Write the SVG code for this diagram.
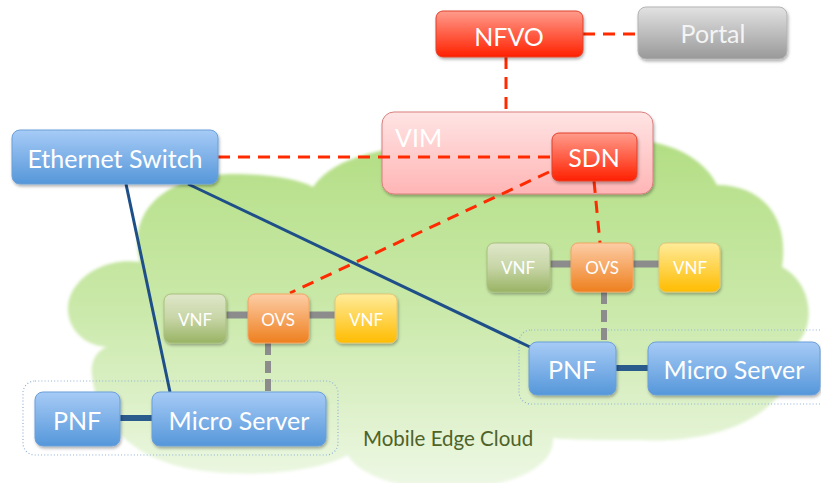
<svg xmlns="http://www.w3.org/2000/svg" width="821" height="483" viewBox="0 0 821 483">
<defs>
  <linearGradient id="gCloud" x1="0" y1="0" x2="0" y2="1">
    <stop offset="0" stop-color="#b3de84"/>
    <stop offset="0.5" stop-color="#cbe9ab"/>
    <stop offset="1" stop-color="#eef8e6"/>
  </linearGradient>
  <linearGradient id="gBlue" x1="0" y1="0" x2="0" y2="1">
    <stop offset="0" stop-color="#a7cbf6"/>
    <stop offset="1" stop-color="#5597da"/>
  </linearGradient>
  <linearGradient id="gRed" x1="0" y1="0" x2="0" y2="1">
    <stop offset="0" stop-color="#ff9c8c"/>
    <stop offset="1" stop-color="#ff2000"/>
  </linearGradient>
  <linearGradient id="gGray" x1="0" y1="0" x2="0" y2="1">
    <stop offset="0" stop-color="#e2e2e2"/>
    <stop offset="1" stop-color="#999999"/>
  </linearGradient>
  <linearGradient id="gPink" x1="0" y1="0" x2="0" y2="1">
    <stop offset="0" stop-color="#ffe4e4"/>
    <stop offset="1" stop-color="#ffb5b5"/>
  </linearGradient>
  <linearGradient id="gOrange" x1="0" y1="0" x2="0" y2="1">
    <stop offset="0" stop-color="#fdcda6"/>
    <stop offset="1" stop-color="#ee7f1e"/>
  </linearGradient>
  <linearGradient id="gGreen" x1="0" y1="0" x2="0" y2="1">
    <stop offset="0" stop-color="#dfe7c9"/>
    <stop offset="0.5" stop-color="#c7d5a6"/>
    <stop offset="1" stop-color="#98b363"/>
  </linearGradient>
  <linearGradient id="gYellow" x1="0" y1="0" x2="0" y2="1">
    <stop offset="0" stop-color="#ffeb9a"/>
    <stop offset="1" stop-color="#ffbc00"/>
  </linearGradient>
  <filter id="shadow" x="-10%" y="-10%" width="130%" height="140%">
    <feDropShadow dx="1" dy="2" stdDeviation="1.5" flood-color="#000" flood-opacity="0.3"/>
  </filter>
  <filter id="soft" x="-5%" y="-5%" width="110%" height="110%">
    <feGaussianBlur stdDeviation="1.5"/>
  </filter>
</defs>
<style>
  text { font-family: Lato, "Open Sans", "Liberation Sans", sans-serif; fill: #ffffff; text-anchor: middle; }
  .big { font-size: 25px; }
  .small { font-size: 17px; }
  .box { filter: url(#shadow); }
  .blue { fill: url(#gBlue); stroke: #6b9fd8; stroke-width: 1; }
  .red { fill: url(#gRed); stroke: #e0402c; stroke-width: 1; }
  .gray { fill: url(#gGray); stroke: #b4b4b4; stroke-width: 1; }
  .orange { fill: url(#gOrange); stroke: #f4a461; stroke-width: 1; }
  .green { fill: url(#gGreen); stroke: #a9c07c; stroke-width: 1; }
  .yellow { fill: url(#gYellow); stroke: #e3c772; stroke-width: 1; }
  .reddash { stroke: #ff2a00; stroke-width: 3; stroke-dasharray: 12 8; fill: none; }
  .graydash { stroke: #8c8c8c; stroke-width: 6; stroke-dasharray: 12 6; fill: none; }
  .graysolid { stroke: #8c8c8c; stroke-width: 7; fill: none; }
  .bluesolid { stroke: #2b5a8c; stroke-width: 6; fill: none; }
  .blueline { stroke: #1f4f88; stroke-width: 3; fill: none; }
  .dotted { fill: none; stroke: #8fb2d9; stroke-width: 1.2; stroke-dasharray: 1 2.2; }
</style>

<g id="cloud">
  <path filter="url(#soft)" fill="url(#gCloud)" d="M140,262 C125,205 175,172 240,174 C275,175 300,180 313,187 C335,155 390,145 450,145 L620,140 C670,138 705,160 717,185 C760,185 790,215 782,267 C815,285 815,330 795,345 C800,400 740,445 640,440 C600,440 570,440 553,438 C555,480 470,495 420,488 C385,484 355,470 348,455 C300,480 200,478 160,460 C120,445 95,410 92,375 C90,360 98,350 107,347 C75,345 60,315 72,292 C85,268 115,258 140,262 Z"/>
  <text x="363" y="446" style="font-size:20.5px; fill:#4f6228; text-anchor:start;">Mobile Edge Cloud</text>
</g>

<g id="vim">
  <rect class="box" x="382" y="112" width="271" height="82" rx="12" fill="url(#gPink)" stroke="#d97f7f" stroke-width="1"/>
  <text x="395" y="147" class="big" style="text-anchor:start;">VIM</text>
</g>

<g id="groups">
  <rect class="dotted" x="23" y="381" width="315" height="74" rx="12"/>
  <rect class="dotted" x="519" y="330" width="320" height="74" rx="12"/>
</g>

<g id="connectors">
  <line class="reddash" x1="583" y1="34" x2="638" y2="34"/>
  <line class="reddash" x1="506" y1="57" x2="506" y2="112"/>
  <line class="reddash" x1="218" y1="157" x2="552" y2="157"/>
  <line class="reddash" x1="549" y1="172" x2="290" y2="293"/>
  <line class="reddash" x1="594" y1="181" x2="600" y2="243"/>
  <line class="blueline" x1="126" y1="184" x2="170" y2="392"/>
  <line class="blueline" x1="188" y1="184" x2="530" y2="347"/>
  <line class="graysolid" x1="226" y1="315" x2="248" y2="315"/>
  <line class="graysolid" x1="309" y1="315" x2="335" y2="315"/>
  <line class="graydash" x1="268" y1="343" x2="268" y2="392"/>
  <line class="graysolid" x1="550" y1="264" x2="571" y2="264"/>
  <line class="graysolid" x1="633" y1="264" x2="659" y2="264"/>
  <line class="graydash" x1="604" y1="292" x2="604" y2="342"/>
  <line class="bluesolid" x1="120" y1="418" x2="152" y2="418"/>
  <line class="bluesolid" x1="616" y1="368" x2="648" y2="368"/>
</g>

<g id="nfvo">
  <rect class="box red" x="436" y="11" width="147" height="46" rx="7"/>
  <text x="509" y="46" class="big">NFVO</text>
</g>
<g id="portal">
  <rect class="box gray" x="638" y="7" width="149" height="52" rx="8"/>
  <text x="713" y="43" class="big" style="fill:#f4f4f4;">Portal</text>
</g>
<g id="sdn">
  <rect class="box red" x="552" y="133" width="85" height="48" rx="7"/>
  <text x="594" y="167" class="big">SDN</text>
</g>
<g id="ethernet-switch">
  <rect class="box blue" x="12" y="130" width="206" height="54" rx="8"/>
  <text x="115" y="168" class="big">Ethernet Switch</text>
</g>

<g id="vnf-left-1">
  <rect class="box green" x="164" y="294" width="62" height="49" rx="7"/>
  <text x="195" y="326" class="small">VNF</text>
</g>
<g id="ovs-left">
  <rect class="box orange" x="248" y="294" width="61" height="49" rx="7"/>
  <text x="278" y="326" class="small">OVS</text>
</g>
<g id="vnf-left-2">
  <rect class="box yellow" x="335" y="294" width="62" height="49" rx="7"/>
  <text x="366" y="326" class="small">VNF</text>
</g>

<g id="vnf-right-1">
  <rect class="box green" x="487" y="243" width="63" height="49" rx="7"/>
  <text x="518" y="274" class="small">VNF</text>
</g>
<g id="ovs-right">
  <rect class="box orange" x="571" y="243" width="62" height="49" rx="7"/>
  <text x="602" y="274" class="small">OVS</text>
</g>
<g id="vnf-right-2">
  <rect class="box yellow" x="659" y="243" width="61" height="49" rx="7"/>
  <text x="690" y="274" class="small">VNF</text>
</g>

<g id="pnf-left">
  <rect class="box blue" x="35" y="392" width="85" height="54" rx="8"/>
  <text x="77" y="430" class="big">PNF</text>
</g>
<g id="micro-server-left">
  <rect class="box blue" x="152" y="392" width="174" height="54" rx="8"/>
  <text x="239" y="430" class="big">Micro Server</text>
</g>
<g id="pnf-right">
  <rect class="box blue" x="529" y="342" width="87" height="53" rx="8"/>
  <text x="572" y="379" class="big">PNF</text>
</g>
<g id="micro-server-right">
  <rect class="box blue" x="648" y="342" width="172" height="53" rx="8"/>
  <text x="734" y="379" class="big">Micro Server</text>
</g>
</svg>
